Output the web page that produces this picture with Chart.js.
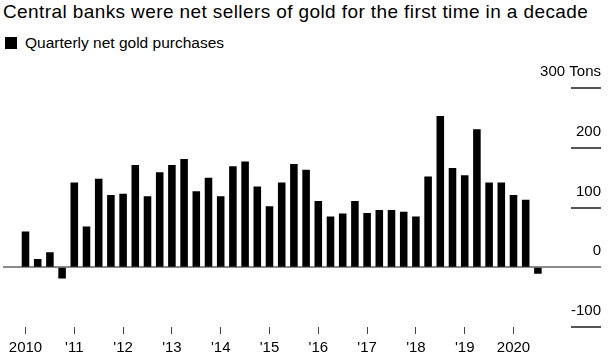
<!DOCTYPE html>
<html>
<head>
<meta charset="utf-8">
<script src="https://cdn.jsdelivr.net/npm/chart.js@4/dist/chart.umd.min.js"></script>
<style>
  html, body { margin: 0; padding: 0; background: #fff; }
  #wrap { position: relative; width: 613px; height: 354px; font-family: "Liberation Sans", Arial, sans-serif; color: #000; }
  #title { position: absolute; left: 3px; top: 1px; font-size: 19px; letter-spacing: 0.4px; white-space: nowrap; }
  #legend { position: absolute; left: 5px; top: 35px; font-size: 15.5px; white-space: nowrap; line-height: 16px; }
  #legend span.box { display: inline-block; width: 12px; height: 12px; background: #000; vertical-align: -1px; margin-right: 8px; }
  canvas { position: absolute; left: 0; top: 0; }
</style>
</head>
<body>
<div id="wrap">
  <div id="title">Central banks were net sellers of gold for the first time in a decade</div>
  <div id="legend"><span class="box"></span>Quarterly net gold purchases</div>
  <canvas id="chart" width="613" height="354"></canvas>
</div>
<script>
// quarters 2010 Q1 .. 2020 Q3
const quarters = [];
for (let y = 2010; y <= 2020; y++) {
  for (let q = 1; q <= 4; q++) {
    if (y === 2020 && q === 4) break;
    quarters.push(y + " Q" + q);
  }
}

const yearLabels = ["2010", "'11", "'12", "'13", "'14", "'15", "'16", "'17", "'18", "'19", "2020"];

// net purchases, tons
const purchases = [
  60, 14, 25, -19,
  142, 68, 148, 121,
  123, 171, 119, 159,
  171, 181, 127, 150,
  119, 169, 177, 135,
  102, 142, 173, 163,
  111, 85, 90, 111,
  91, 96, 96, 93,
  85, 152, 253, 166,
  154, 231, 142, 142,
  121, 113, -11
];

const yTicks = [-100, 0, 100, 200, 300];

// horizontal guides: short segments at the right, full-width zero line
const guideLines = {
  id: "guideLines",
  beforeDatasetsDraw(chart) {
    const y = chart.scales.y;
    const ctx = chart.ctx;
    ctx.save();
    ctx.lineWidth = 2;
    yTicks.forEach(v => {
      const py = Math.round(y.getPixelForValue(v));
      ctx.beginPath();
      if (v === 0) {
        ctx.strokeStyle = "#8a8a8a";
        ctx.moveTo(3, py);
      } else {
        ctx.strokeStyle = "#555";
        ctx.moveTo(571, py);
      }
      ctx.lineTo(601, py);
      ctx.stroke();
    });
    ctx.restore();
  }
};

new Chart(document.getElementById("chart"), {
  type: "bar",
  data: {
    labels: quarters,
    datasets: [{
      label: "Quarterly net gold purchases",
      data: purchases,
      backgroundColor: "#000",
      barPercentage: 0.62,
      categoryPercentage: 1
    }]
  },
  options: {
    responsive: false,
    animation: false,
    layout: { padding: { left: 19.4, right: 12, top: 88, bottom: 0 } },
    plugins: {
      legend: { display: false },
      tooltip: { enabled: false }
    },
    scales: {
      x: {
        offset: true,
        border: { display: false },
        grid: {
          offset: false,
          drawOnChartArea: false,
          drawTicks: true,
          tickLength: 7,
          lineWidth: 1,
          color: (c) => (c.index % 4 === 0 ? "#444" : "rgba(0,0,0,0)")
        },
        ticks: {
          autoSkip: false,
          maxRotation: 0,
          padding: 5,
          color: "#000",
          font: { family: "'Liberation Sans', Arial, sans-serif", size: 15 },
          callback: (v, i) => (i % 4 === 0 ? yearLabels[i / 4] : "")
        },
        afterFit: (s) => { s.height = 27; }
      },
      y: {
        position: "right",
        min: -100,
        max: 300,
        border: { display: false },
        grid: { drawOnChartArea: false, drawTicks: false },
        afterBuildTicks: (s) => { s.ticks = yTicks.map(v => ({ value: v })); },
        ticks: {
          mirror: true,
          crossAlign: "near",
          labelOffset: -16,
          padding: 57,
          color: "#000",
          font: { family: "'Liberation Sans', Arial, sans-serif", size: 15 },
          callback: (v) => (v === 300 ? "300 Tons" : String(v))
        },
        afterFit: (s) => {
          s.width = 57;
          s.paddingTop = 0;
          s.paddingBottom = 0;
        }
      }
    }
  },
  plugins: [guideLines]
});
</script>
</body>
</html>
